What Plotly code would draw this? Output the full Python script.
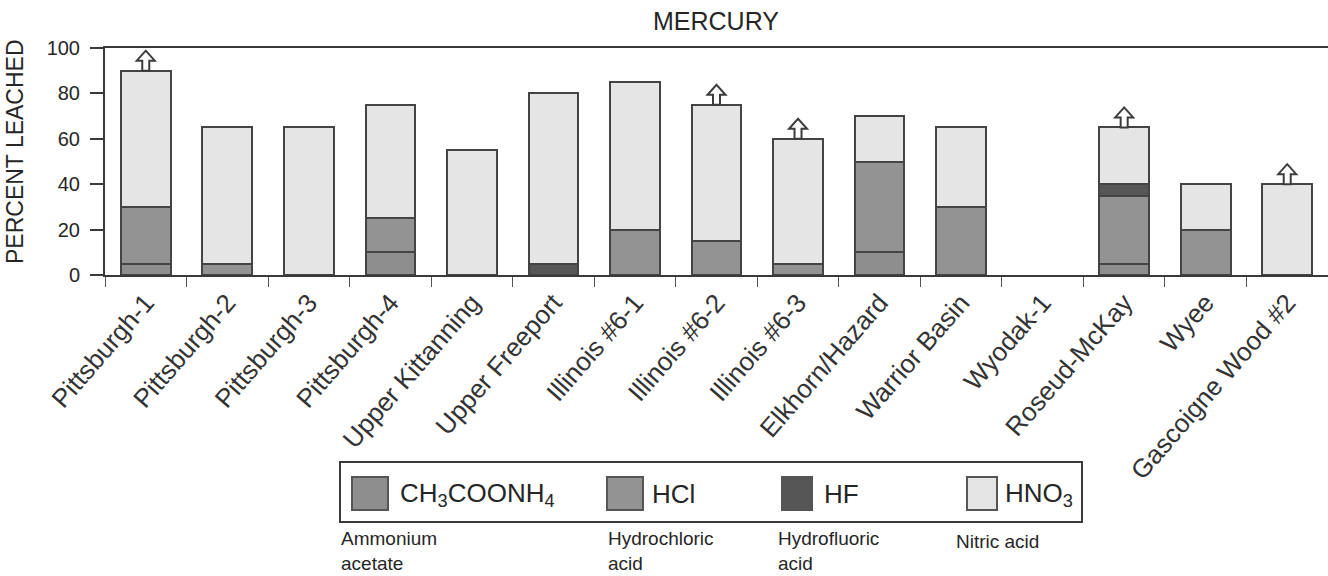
import plotly.graph_objects as go

# Coal samples and percentage of mercury leached by each reagent (stacked)
coals = ["Pittsburgh-1", "Pittsburgh-2", "Pittsburgh-3", "Pittsburgh-4",
         "Upper Kittanning", "Upper Freeport", "Illinois #6-1", "Illinois #6-2",
         "Illinois #6-3", "Elkhorn/Hazard", "Warrior Basin", "Wyodak-1",
         "Roseud-McKay", "Wyee", "Gascoigne Wood #2"]
ch3coonh4 = [5, 0, 0, 10, 0, 0, 0, 0, 0, 10, 0, 0, 5, 0, 0]
hcl = [25, 5, 0, 15, 0, 0, 20, 15, 5, 40, 30, 0, 30, 20, 0]
hf = [0, 0, 0, 0, 0, 5, 0, 0, 0, 0, 0, 0, 5, 0, 0]
hno3 = [60, 60, 65, 50, 55, 75, 65, 60, 55, 20, 35, 0, 25, 20, 40]
# samples whose leached total is a lower bound
lower_bound = ["Pittsburgh-1", "Illinois #6-2", "Illinois #6-3",
               "Roseud-McKay", "Gascoigne Wood #2"]

y_ticks = [0, 20, 40, 60, 80, 100]

W, H = 1328, 576
L, R, T, B = 105, 0, 48, 301
FONT = "Liberation Sans, Arial, Helvetica, sans-serif"
EDGE = "#444444"
INK = "#262626"

series = [
    ("CH<sub>3</sub>COONH<sub>4</sub>", ch3coonh4, "#8e8e8e"),
    ("HCl", hcl, "#939393"),
    ("HF", hf, "#565656"),
    ("HNO<sub>3</sub>", hno3, "#e5e5e5"),
]

fig = go.Figure()
for name, vals, color in series:
    fig.add_trace(go.Bar(
        x=coals, y=[v if v else None for v in vals], name=name,
        width=0.61, marker=dict(color=color, line=dict(color=EDGE, width=2)),
        showlegend=False,
    ))

totals = [a + b + c + d for a, b, c, d in zip(ch3coonh4, hcl, hf, hno3)]

# hollow up-arrows (pixel-sized) standing on the lower-bound bars
ARROW = "M -3.5 0 L -3.5 10 L -9 10 L 0 20 L 9 10 L 3.5 10 L 3.5 0 Z"
for name, tot in zip(coals, totals):
    if name in lower_bound:
        fig.add_shape(type="path", xref="x", yref="y",
                      xsizemode="pixel", ysizemode="pixel",
                      xanchor=name, yanchor=tot, path=ARROW,
                      line=dict(color="#3c3c3c", width=2), fillcolor="white")

# pixel -> paper helpers for the key box and free text
pw, ph = W - L - R, H - T - B
def px(x):
    return (x - L) / pw
def py(y):
    return (H - B - y) / ph

fig.add_shape(type="rect", xref="paper", yref="paper",
              x0=px(340), x1=px(1082), y0=py(522), y1=py(462),
              line=dict(color="#3a3a3a", width=2), fillcolor="white")

key = [
    (352, 388, 398, series[0][0], series[0][2], ["Ammonium", "acetate"], 340),
    (607, 643, 650, series[1][0], series[1][2], ["Hydrochloric", "acid"], 607),
    (782, 812, 822, series[2][0], series[2][2], ["Hydrofluoric", "acid"], 777),
    (967, 997, 1003, series[3][0], series[3][2], ["Nitric acid"], 955),
]
for sx0, sx1, tx, label, color, desc, dx in key:
    fig.add_shape(type="rect", xref="paper", yref="paper",
                  x0=px(sx0), x1=px(sx1), y0=py(510), y1=py(477),
                  line=dict(color="#555555", width=2), fillcolor=color)
    fig.add_annotation(xref="paper", yref="paper", x=px(tx), y=py(494),
                       text=label, showarrow=False, xanchor="left", yanchor="middle",
                       font=dict(family=FONT, size=26, color=INK))
    if len(desc) > 1:
        fig.add_annotation(xref="paper", yref="paper", x=px(dx), y=py(575),
                           text="<br>".join(desc), showarrow=False, xanchor="left",
                           yanchor="bottom", align="left", borderpad=0,
                           font=dict(family=FONT, size=19, color=INK))
    else:
        fig.add_annotation(xref="paper", yref="paper", x=px(dx), y=py(541),
                           text=desc[0], showarrow=False, xanchor="left",
                           yanchor="middle", borderpad=0,
                           font=dict(family=FONT, size=19, color=INK))

# title and axis title
fig.add_annotation(xref="paper", yref="paper", x=px(716), y=py(21), text="MERCURY",
                   showarrow=False, xanchor="center", yanchor="middle",
                   font=dict(family=FONT, size=25, color=INK))
fig.add_annotation(xref="paper", yref="paper", x=px(15), y=py(152),
                   text="PERCENT LEACHED", textangle=-90, showarrow=False,
                   xanchor="center", yanchor="middle",
                   font=dict(family=FONT, size=23, color=INK))

boundaries = [i + 0.5 for i in range(len(coals) - 1)]

fig.update_layout(
    width=W, height=H, margin=dict(l=L, r=R, t=T, b=B),
    barmode="stack", bargap=0.39,
    plot_bgcolor="white", paper_bgcolor="white",
    font=dict(family=FONT, size=20, color=INK),
    xaxis=dict(
        type="category", categoryorder="array", categoryarray=coals,
        range=[-0.5, len(coals) - 0.5],
        tickson="boundaries", ticks="outside", ticklen=10, tickwidth=1,
        tickcolor="#555555", tickangle=-49,
        showline=True, linecolor="#3a3a3a", linewidth=2, mirror=True,
        showgrid=False, tickfont=dict(size=26, color="#333333"),
    ),
    xaxis2=dict(
        overlaying="x", anchor="y", side="bottom", range=[-0.5, len(coals) - 0.5],
        tickvals=boundaries, ticks="inside", ticklen=8, tickwidth=1,
        tickcolor="#555555", showticklabels=False, showline=False,
        showgrid=False, zeroline=False,
    ),
    yaxis=dict(
        range=[0, 100], tickvals=y_ticks, ticks="outside", ticklen=13,
        tickwidth=2, tickcolor="#3a3a3a", showline=True, linecolor="#3a3a3a",
        linewidth=2, showgrid=False, zeroline=False, ticklabelstandoff=6,
        tickfont=dict(size=20, color=INK),
    ),
    yaxis2=dict(
        overlaying="y", anchor="x", side="left", range=[0, 100],
        tickvals=y_ticks[1:-1], ticks="inside", ticklen=12, tickwidth=2,
        tickcolor="#3a3a3a", showticklabels=False, showline=False,
        showgrid=False, zeroline=False,
    ),
)

fig.write_html("out.html")
